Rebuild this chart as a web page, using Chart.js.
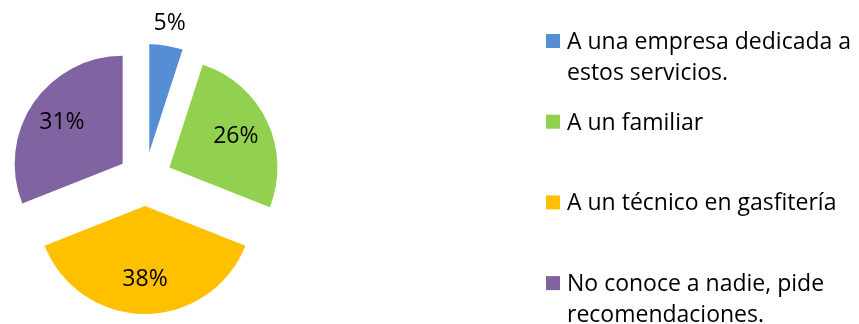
<!DOCTYPE html>
<html>
<head>
<meta charset="utf-8">
<script src="https://cdn.jsdelivr.net/npm/chart.js@4.4.1/dist/chart.umd.min.js"></script>
<style>
  html, body { margin: 0; padding: 0; background: #fff; }
  #wrap { position: relative; width: 859px; height: 324px; }
</style>
</head>
<body>
<div id="wrap"><canvas id="pie" width="859" height="324"></canvas></div>
<script>
// categories (multi-line legend entries) and shares in %
const categories = [
  ['A una empresa dedicada a', 'estos servicios.'],
  ['A un familiar'],
  ['A un técnico en gasfitería'],
  ['No conoce a nadie, pide', 'recomendaciones.']
];
const shares = [5, 26, 38, 31];
const colors = ['#558ED5', '#92D050', '#FFC000', '#8064A2'];

const FONT = '"Open Sans", sans-serif';
const FONT_SIZE = 23;
const EXPLODE = 27; // how far each slice is pulled out from the centre

// draws the slices pushed outward along their bisector
const explodePlugin = {
  id: 'explode',
  beforeDatasetDraw(chart, args) {
    const ctx = chart.ctx;
    args.meta.data.forEach(arc => {
      const mid = (arc.startAngle + arc.endAngle) / 2;
      ctx.save();
      ctx.translate(Math.cos(mid) * EXPLODE, Math.sin(mid) * EXPLODE);
      arc.draw(ctx);
      ctx.restore();
    });
    return false;
  }
};

// percentage labels: inside big slices, outside the small ones
const pctLabels = {
  id: 'pctLabels',
  afterDatasetsDraw(chart) {
    const ctx = chart.ctx;
    const meta = chart.getDatasetMeta(0);
    const ds = chart.data.datasets[0];
    ctx.save();
    ctx.font = FONT_SIZE + 'px ' + FONT;
    ctx.fillStyle = '#000';
    ctx.textAlign = 'center';
    ctx.textBaseline = 'middle';
    meta.data.forEach((arc, i) => {
      const mid = (arc.startAngle + arc.endAngle) / 2;
      const r = arc.outerRadius;
      const dist = ds.data[i] < 10 ? r * 1.21 : r * 0.68;
      const x = arc.x + Math.cos(mid) * (EXPLODE + dist);
      const y = arc.y + Math.sin(mid) * (EXPLODE + dist);
      ctx.fillText(ds.data[i] + '%', x, y);
    });
    ctx.restore();
  }
};

// legend on the right, square markers and wrapped text
const sideLegend = {
  id: 'sideLegend',
  afterDraw(chart) {
    const ctx = chart.ctx;
    const x0 = 546, firstBase = 49, step = 80.7, lineH = 31;
    ctx.save();
    ctx.font = FONT_SIZE + 'px ' + FONT;
    ctx.textBaseline = 'alphabetic';
    ctx.textAlign = 'left';
    chart.data.labels.forEach((lines, i) => {
      const base = firstBase + i * step;
      ctx.fillStyle = colors[i];
      ctx.fillRect(x0, base - 15, 14, 14);
      ctx.fillStyle = '#000';
      lines.forEach((t, j) => ctx.fillText(t, x0 + 21, base + j * lineH));
    });
    ctx.restore();
  }
};

new Chart(document.getElementById('pie'), {
  type: 'pie',
  data: {
    labels: categories,
    datasets: [{
      data: shares,
      backgroundColor: colors,
      borderWidth: 0
    }]
  },
  options: {
    responsive: false,
    animation: false,
    radius: 108,
    layout: {
      padding: { left: 0, right: 569, top: 34, bottom: 0 }
    },
    plugins: {
      legend: { display: false },
      tooltip: { enabled: false }
    }
  },
  plugins: [explodePlugin, pctLabels, sideLegend]
});
</script>
</body>
</html>
